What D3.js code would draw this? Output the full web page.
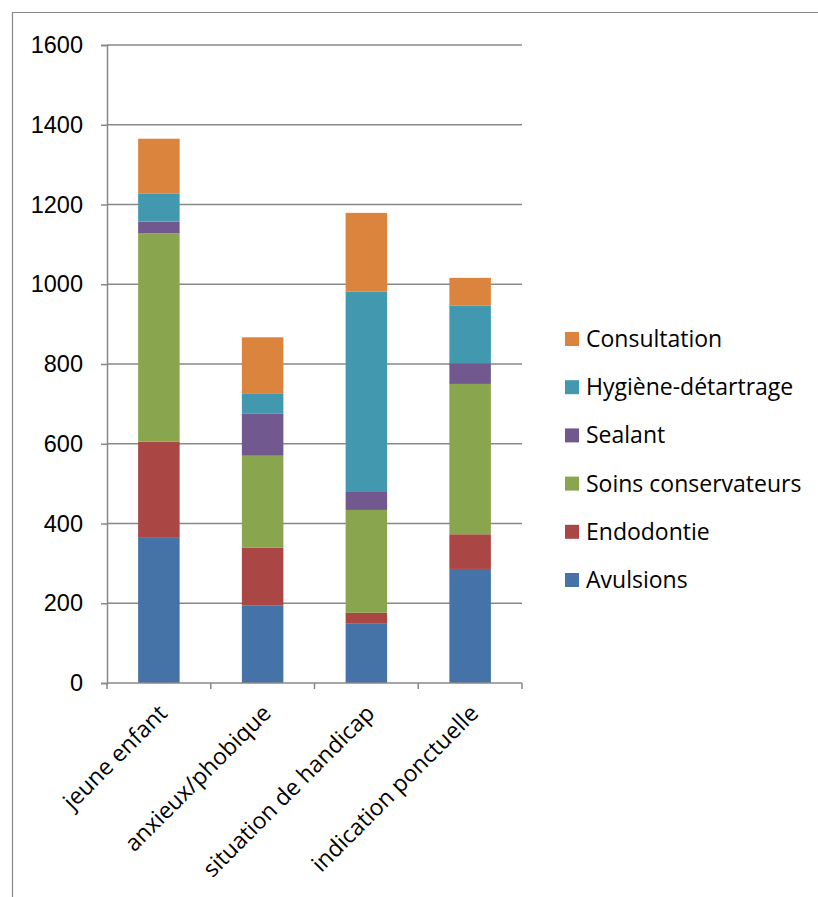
<!DOCTYPE html>
<html>
<head>
<meta charset="utf-8">
<script src="https://cdn.jsdelivr.net/npm/d3@7"></script>
<style>
  body { margin: 0; background: #fff; }
  svg { display: block; font-family: "Open Sans", "Noto Sans", sans-serif; }
</style>
</head>
<body>
<svg id="chart" width="818" height="897"></svg>
<script>
// categories and series
let categories = ["jeune enfant", "anxieux/phobique", "situation de handicap", "indication ponctuelle"]
let seriesNames = ["Avulsions", "Endodontie", "Soins conservateurs", "Sealant", "Hygiène-détartrage", "Consultation"]
let avulsions = [364, 195, 150, 286]
let endodontie = [241, 144, 26, 87]
let soins = [523, 231, 258, 377]
let sealant = [29, 105, 47, 52]
let hygiene = [71, 50, 501, 145]
let consultation = [137, 142, 197, 69]
let yTicks = [0, 200, 400, 600, 800, 1000, 1200, 1400, 1600]
let colors = ["#4572A7", "#AA4643", "#89A54E", "#71588F", "#4198AF", "#DB843D"]

let seriesValues = [avulsions, endodontie, soins, sealant, hygiene, consultation]

// rows for d3.stack
let rows = categories.map((c, i) => {
  let r = {cat: c}
  seriesNames.forEach((s, j) => { r[s] = seriesValues[j][i] })
  return r
})

let svg = d3.select("#chart")

// outer frame
svg.append("path")
  .attr("d", "M12.5,897 V12.5 H818")
  .attr("fill", "none")
  .attr("stroke", "#878787")
  .attr("stroke-width", 1.2)

let margin = {top: 45, left: 107},
    width = 415,
    height = 638

let g = svg.append("g")
  .attr("transform", "translate(" + margin.left + "," + margin.top + ")")

let x = d3.scaleBand()
  .domain(categories)
  .range([0, width])
  .paddingInner(0.6)
  .paddingOuter(0.3)

let y = d3.scaleLinear()
  .domain([0, 1600])
  .range([height, 0])

let color = d3.scaleOrdinal().domain(seriesNames).range(colors)

// gridlines
g.selectAll(".grid")
  .data(yTicks.filter(d => d > 0))
  .enter().append("line")
  .attr("x1", 0).attr("x2", width)
  .attr("y1", d => y(d)).attr("y2", d => y(d))
  .attr("stroke", "#888")
  .attr("stroke-width", 1.5)

// stacked bars
let stacked = d3.stack().keys(seriesNames)(rows)

g.selectAll(".layer")
  .data(stacked)
  .enter().append("g")
  .attr("fill", d => color(d.key))
  .selectAll("rect")
  .data(d => d)
  .enter().append("rect")
  .attr("x", d => x(d.data.cat))
  .attr("width", x.bandwidth())
  .attr("y", d => y(d[1]))
  .attr("height", d => y(d[0]) - y(d[1]))

// y axis
let yAxis = g.append("g")
  .call(d3.axisLeft(y).tickValues(yTicks).tickSize(6).tickPadding(18).tickFormat(d3.format("d")))
yAxis.select(".domain").attr("stroke", "#888").attr("stroke-width", 1.5)
yAxis.selectAll(".tick line").attr("stroke", "#888").attr("stroke-width", 1.5)
yAxis.selectAll("text").attr("font-size", 23.5).attr("fill", "#000")

// x axis (ticks between categories)
let step = width / categories.length
let xAxis = g.append("g")
  .attr("transform", "translate(0," + height + ")")
xAxis.append("line")
  .attr("x1", 0).attr("x2", width)
  .attr("stroke", "#888").attr("stroke-width", 1.5)
xAxis.selectAll(".xtick")
  .data(d3.range(categories.length + 1))
  .enter().append("line")
  .attr("x1", d => d * step).attr("x2", d => d * step)
  .attr("y1", 0).attr("y2", 6)
  .attr("stroke", "#888").attr("stroke-width", 1.5)

xAxis.selectAll(".xlabel")
  .data(categories)
  .enter().append("text")
  .attr("transform", d => "translate(" + (x(d) + x.bandwidth() / 2 + 4) + ",26) rotate(-45)")
  .attr("text-anchor", "end")
  .attr("dy", "0.35em")
  .attr("font-size", 23)
  .text(d => d)

// legend
let legend = svg.append("g")
  .attr("transform", "translate(565,339)")

let legendItems = legend.selectAll(".item")
  .data(seriesNames.slice().reverse())
  .enter().append("g")
  .attr("transform", (d, i) => "translate(0," + (i * 48.2) + ")")

legendItems.append("rect")
  .attr("x", 0).attr("y", -7)
  .attr("width", 14).attr("height", 14)
  .attr("fill", d => color(d))

legendItems.append("text")
  .attr("x", 21)
  .attr("dy", "0.35em")
  .attr("font-size", 23)
  .text(d => d)
</script>
</body>
</html>
